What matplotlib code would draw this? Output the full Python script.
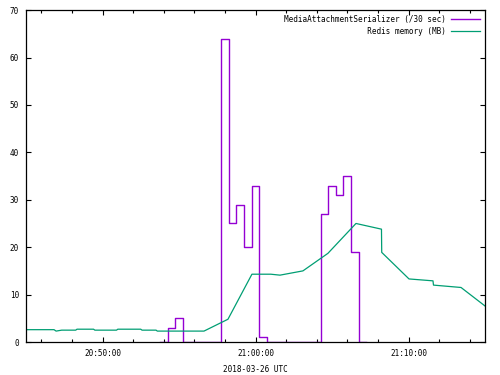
import matplotlib
matplotlib.use("Agg")
import matplotlib.pyplot as plt
import matplotlib.dates as mdates
import pandas as pd

day = "2018-03-26 "

# MediaAttachmentSerializer counts per 30 sec bin (bin start times)
serializer_times = ["20:53:45", "20:54:15", "20:54:45", "20:55:15", "20:57:45",
                    "20:58:15", "20:58:45", "20:59:15", "20:59:45", "21:00:15",
                    "21:00:45", "21:04:15", "21:04:45", "21:05:15", "21:05:45",
                    "21:06:15", "21:06:45", "21:07:15"]
serializer_vals = [0, 3, 5, 0, 64, 25, 29, 20, 33, 1, 0, 27, 33, 31, 35, 19, 0, 0]

# Redis memory (MB)
redis_times = ["20:45:00", "20:46:50", "20:46:58", "20:47:20", "20:48:15",
               "20:48:20", "20:49:25", "20:49:30", "20:50:55", "20:51:00",
               "20:52:30", "20:52:35", "20:53:30", "20:53:35", "20:56:38",
               "20:58:12", "20:59:46", "21:01:00", "21:01:36", "21:03:06",
               "21:04:44", "21:06:34", "21:08:14", "21:08:15", "21:10:02",
               "21:11:36", "21:11:38", "21:13:26", "21:15:00"]
redis_vals = [2.6, 2.6, 2.3, 2.5, 2.5,
              2.7, 2.7, 2.5, 2.5, 2.7,
              2.7, 2.5, 2.5, 2.3, 2.3,
              4.8, 14.3, 14.3, 14.1, 15.0,
              18.7, 25.0, 23.8, 18.9, 13.3,
              12.9, 12.0, 11.5, 7.6]

ser_t = pd.to_datetime([day + t for t in serializer_times])
red_t = pd.to_datetime([day + t for t in redis_times])

mono = "DejaVu Sans Mono"
fs = 5.5

fig = plt.figure(figsize=(5, 3.75), dpi=100)
ax = fig.add_axes([0.052, 0.088, 0.918, 0.885])

ax.step(ser_t, serializer_vals, where="post", color="#9400D3", lw=1.0,
        label="MediaAttachmentSerializer (/30 sec)")
ax.plot(red_t, redis_vals, color="#009E73", lw=0.9,
        label=f"{'Redis memory (MB)':>35}")

ax.set_xlim(pd.Timestamp(day + "20:45:00"), pd.Timestamp(day + "21:15:00"))
ax.set_ylim(0, 70)
ax.set_yticks(range(0, 71, 10))

ax.xaxis.set_major_locator(mdates.MinuteLocator(byminute=range(0, 60, 10)))
ax.xaxis.set_minor_locator(mdates.MinuteLocator(byminute=range(0, 60, 2)))
ax.xaxis.set_major_formatter(mdates.DateFormatter("%H:%M:%S"))

ax.tick_params(which="both", direction="in", top=True, right=True,
               width=0.8, color="black")
ax.tick_params(which="major", length=3.5, pad=5, labelsize=fs)
ax.tick_params(which="minor", length=2.5)
for lab in ax.get_xticklabels() + ax.get_yticklabels():
    lab.set_family(mono)

for sp in ax.spines.values():
    sp.set_linewidth(0.9)

ax.set_xlabel("2018-03-26 UTC", family=mono, fontsize=fs, labelpad=5)

ax.legend(loc="upper right", frameon=False, markerfirst=False,
          prop={"family": mono, "size": fs}, handlelength=3.8,
          handletextpad=0.7, borderaxespad=0.2, labelspacing=0.4)

fig.savefig("out.png", dpi=100)
